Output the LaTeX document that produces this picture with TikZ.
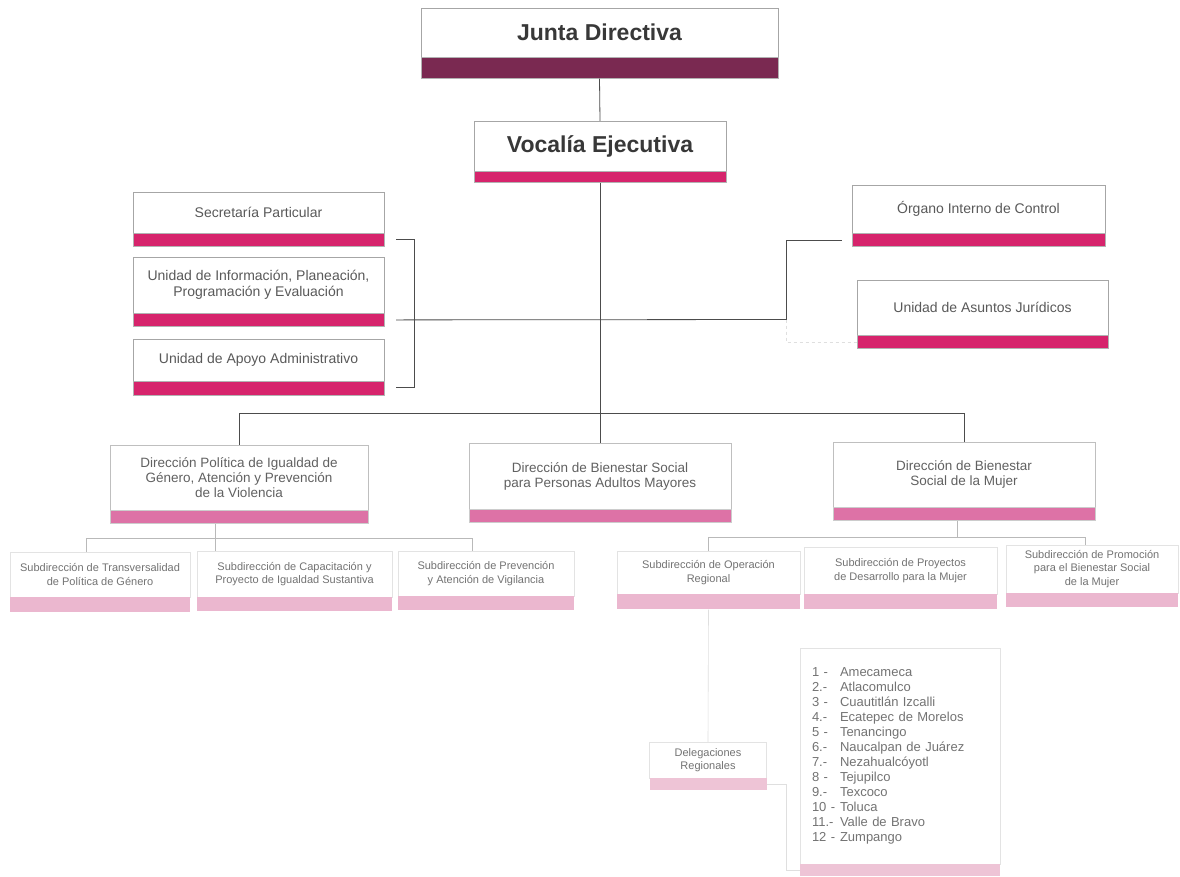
\documentclass[tikz,border=0pt]{standalone}
\usepackage{fontspec}
\setmainfont{Liberation Sans}
\usetikzlibrary{calc,positioning}

\definecolor{plum}{RGB}{122,41,81}
\definecolor{vocpink}{RGB}{214,36,108}
\definecolor{dirpink}{RGB}{221,114,166}
\definecolor{subpink}{RGB}{235,183,207}
\definecolor{palepink}{RGB}{238,196,214}

\begin{document}
\begin{tikzpicture}[x=1pt, y=-1pt]
    \tikzstyle{box}=[draw=gray!70, fill=white, inner sep=1pt, align=center, text=black!65, font=\fontsize{14}{16}\selectfont]
    \tikzstyle{title}=[box, text=black!78, font=\bfseries\fontsize{23}{25}\selectfont]
    \tikzstyle{dir}=[box, draw=gray!50, text=black!62, font=\fontsize{13.5}{15}\selectfont]
    \tikzstyle{sub}=[box, draw=gray!22, text=black!55, font=\fontsize{11}{13.5}\selectfont]
    \tikzstyle{bar}=[draw=gray!60, inner sep=0pt, anchor=north]
    \tikzstyle{link}=[draw=black!70, line width=0.8pt]
    \tikzstyle{sublink}=[draw=gray!55, line width=0.6pt]
    \tikzstyle{faint}=[draw=gray!25, line width=0.6pt]
    \fill[white] (0,0) rectangle (1180,876);
    \useasboundingbox (0,0) rectangle (1180,876);
    % top of the chart
    \node[title, minimum width=357, minimum height=49] (JD) at (599.5,32.5) {Junta Directiva};
    \node[bar, fill=plum, minimum width=357, minimum height=21] (JDb) at (JD.south) {};
    \node[title, minimum width=252, minimum height=50] (VE) at (600,146) {Vocalía Ejecutiva};
    \node[bar, fill=vocpink, minimum width=252, minimum height=11] (VEb) at (VE.south) {};
    % staff units
    \node[box, minimum width=251, minimum height=41] (SP) at (258.5,212.5) {Secretaría Particular};
    \node[bar, fill=vocpink, minimum width=251, minimum height=13] (SPb) at (SP.south) {};
    \node[box, minimum width=251, minimum height=56] (UI) at (258.5,285) {Unidad de Información, Planeación,\\Programación y Evaluación};
    \node[bar, fill=vocpink, minimum width=251, minimum height=13] (UIb) at (UI.south) {};
    \node[box, minimum width=251, minimum height=42] (UA) at (258.5,360) {Unidad de Apoyo Administrativo};
    \node[bar, fill=vocpink, minimum width=251, minimum height=14] (UAb) at (UA.south) {};
    \node[box, minimum width=253, minimum height=48] (OI) at (978.5,209) {Órgano Interno de Control};
    \node[bar, fill=vocpink, minimum width=253, minimum height=13] (OIb) at (OI.south) {};
    \node[box, minimum width=251, minimum height=55] (UJ) at (982.5,307.5) {Unidad de Asuntos Jurídicos};
    \node[bar, fill=vocpink, minimum width=251, minimum height=13] (UJb) at (UJ.south) {};
    % direcciones
    \node[dir, minimum width=258, minimum height=65] (DP) at (239,477.5) {Dirección Política de Igualdad de\\Género, Atención y Prevención\\de la Violencia};
    \node[bar, draw=gray!40, fill=dirpink, minimum width=258, minimum height=13] (DPb) at (DP.south) {};
    \node[dir, minimum width=262, minimum height=66] (DA) at (600,476) {Dirección de Bienestar Social\\para Personas Adultos Mayores};
    \node[bar, draw=gray!40, fill=dirpink, minimum width=262, minimum height=13] (DAb) at (DA.south) {};
    \node[dir, minimum width=262, minimum height=65] (DM) at (964,474.5) {Dirección de Bienestar\\Social de la Mujer};
    \node[bar, draw=gray!40, fill=dirpink, minimum width=262, minimum height=13] (DMb) at (DM.south) {};
    % subdirecciones
    \node[sub, minimum width=180, minimum height=45] (ST) at (100,574.5) {Subdirección de Transversalidad\\de Política de Género};
    \node[bar, draw=none, fill=subpink, minimum width=180, minimum height=15] (STb) at (ST.south) {};
    \node[sub, minimum width=195, minimum height=46] (SC) at (294.5,574) {Subdirección de Capacitación y\\Proyecto de Igualdad Sustantiva};
    \node[bar, draw=none, fill=subpink, minimum width=195, minimum height=14] (SCb) at (SC.south) {};
    \node[sub, minimum width=176, minimum height=45] (SV) at (486,573.5) {Subdirección de Prevención\\y Atención de Vigilancia};
    \node[bar, draw=none, fill=subpink, minimum width=176, minimum height=14] (SVb) at (SV.south) {};
    \node[sub, minimum width=183, minimum height=43] (SO) at (708.5,572.5) {Subdirección de Operación\\Regional};
    \node[bar, draw=none, fill=subpink, minimum width=183, minimum height=15] (SOb) at (SO.south) {};
    \node[sub, minimum width=193, minimum height=47] (SD) at (900.5,570.5) {Subdirección de Proyectos\\de Desarrollo para la Mujer};
    \node[bar, draw=none, fill=subpink, minimum width=193, minimum height=15] (SDb) at (SD.south) {};
    \node[sub, minimum width=172, minimum height=48] (SB) at (1092,569) {Subdirección de Promoción\\para el Bienestar Social\\de la Mujer};
    \node[bar, draw=none, fill=subpink, minimum width=172, minimum height=14] (SBb) at (SB.south) {};
    % delegaciones
    \node[sub, minimum width=117, minimum height=36] (DR) at (708,760) {Delegaciones\\Regionales};
    \node[bar, draw=none, fill=palepink, minimum width=117, minimum height=12] (DRb) at (DR.south) {};
    \node[sub, align=left, text width=176, minimum width=200, minimum height=216, font=\fontsize{13}{15}\selectfont] (LM) at (900,756) {%
        \makebox[28pt][l]{1 -}Amecameca\\
        \makebox[28pt][l]{2.-}Atlacomulco\\
        \makebox[28pt][l]{3 -}Cuautitlán Izcalli\\
        \makebox[28pt][l]{4.-}Ecatepec de Morelos\\
        \makebox[28pt][l]{5 -}Tenancingo\\
        \makebox[28pt][l]{6.-}Naucalpan de Juárez\\
        \makebox[28pt][l]{7.-}Nezahualcóyotl\\
        \makebox[28pt][l]{8 -}Tejupilco\\
        \makebox[28pt][l]{9.-}Texcoco\\
        \makebox[28pt][l]{10 -}Toluca\\
        \makebox[28pt][l]{11.-}Valle de Bravo\\
        \makebox[28pt][l]{12 -}Zumpango};
    \node[bar, draw=none, fill=palepink, minimum width=200, minimum height=12] (LMb) at (LM.south) {};
    % connectors
    \coordinate (bt) at (396,239);
    \coordinate (bb) at (396,387);
    \coordinate (hl) at ($(UIb.east)+(12,0)$);
    \coordinate (hr) at (786,319.5);
    \coordinate (dpj) at (215,538);
    \coordinate (dmj) at (957,537);
    \draw[link] (JDb.south) -- (VE.north);
    \draw[link] (VEb.south) -- (DA.north);
    \draw[link] (bt) -- ++(18,0) |- (bb);
    \draw[link] (hl) -- (hr);
    \draw[link] (hr) |- ($(OIb.west)+(-10,0)$);
    \draw[faint, dashed] (hr) |- (UJb.west);
    \draw[link] (DP.north) -- ++(0,-31) -| (DM.north);
    \draw[sublink] (DPb.south -| dpj) -- (SC.north -| dpj);
    \draw[sublink] ($(ST.north)+(-14,0)$) |- (dpj) -| ($(SV.north)+(-14,0)$);
    \draw[sublink] (DMb.south -| dmj) -- (dmj);
    \draw[sublink] (SO.north) |- (dmj) -| ($(SB.north)+(-7,0)$);
    \draw[faint] (SOb.south) -- (DR.north);
    \draw[faint] (DRb.east) -- ++(20,0) |- (LMb.west);
\end{tikzpicture}
\end{document}
